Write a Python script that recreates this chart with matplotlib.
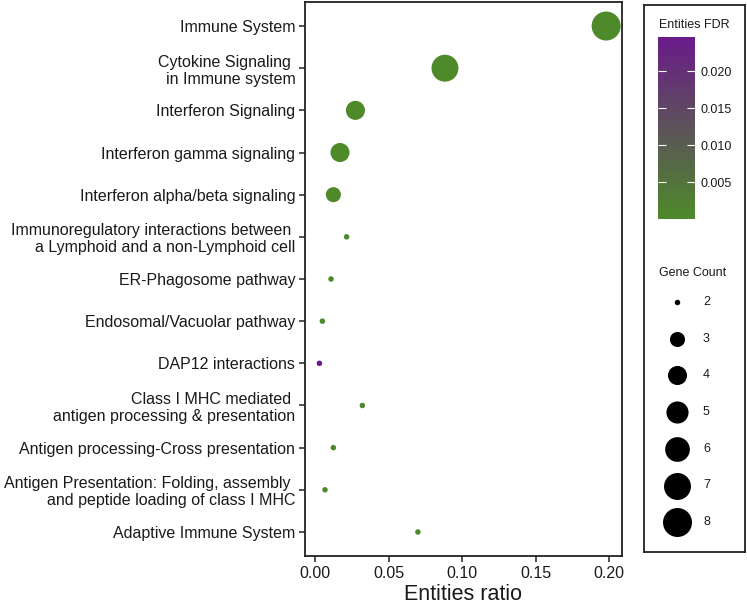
import numpy as np
import matplotlib
matplotlib.use("Agg")
import matplotlib.pyplot as plt
from matplotlib.colors import LinearSegmentedColormap, Normalize

plt.rcParams['font.family'] = ['Liberation Sans', 'DejaVu Sans']

# pathways, top to bottom
pathways = [
    "Immune System",
    "Cytokine Signaling \nin Immune system",
    "Interferon Signaling",
    "Interferon gamma signaling",
    "Interferon alpha/beta signaling",
    "Immunoregulatory interactions between \na Lymphoid and a non-Lymphoid cell",
    "ER-Phagosome pathway",
    "Endosomal/Vacuolar pathway",
    "DAP12 interactions",
    "Class I MHC mediated \nantigen processing & presentation",
    "Antigen processing-Cross presentation",
    "Antigen Presentation: Folding, assembly \nand peptide loading of class I MHC",
    "Adaptive Immune System",
]
ratio = [0.198, 0.0884, 0.0275, 0.017, 0.0125, 0.0215, 0.0109,
         0.005, 0.003, 0.0322, 0.0125, 0.0068, 0.070]
gene_count = [8, 7, 4, 4, 3, 2, 2, 2, 2, 2, 2, 2, 2]
fdr = [1.2e-9, 3.4e-8, 2.1e-6, 4.5e-6, 1.8e-4, 2.6e-4, 3.1e-4,
       3.1e-4, 0.0246, 4.2e-4, 3.5e-4, 3.1e-4, 4.6e-4]

legend_counts = [2, 3, 4, 5, 6, 7, 8]
fdr_ticks = [0.005, 0.010, 0.015, 0.020]

cmap = LinearSegmentedColormap.from_list("fdr", ["#4E8A2A", "#6A1B8A"])
norm = Normalize(vmin=min(fdr), vmax=max(fdr))

dpi = 100
W, H = 747, 606


def size_of(c):
    # ggplot-like area scale: diameter in px -> marker area in pt^2
    lo, hi = min(legend_counts), max(legend_counts)
    d = 5.5 + (29 - 5.5) * np.sqrt((np.asarray(c) - lo) / (hi - lo))
    return (d * 72 / dpi) ** 2


fig = plt.figure(figsize=(W / dpi, H / dpi), dpi=dpi)


def px_axes(x0, y0, x1, y1):
    return fig.add_axes([x0 / W, 1 - y1 / H, (x1 - x0) / W, (y1 - y0) / H])


ax = px_axes(305, 2, 622, 556)
ypos = np.arange(len(pathways))
ax.scatter(ratio, ypos, s=size_of(gene_count), c=fdr, cmap=cmap, norm=norm,
           linewidths=0, zorder=3)
ax.set_xlim(-0.0068, 0.2088)
ax.set_ylim(len(pathways) - 0.43, -0.57)
ax.set_yticks(ypos)
ax.set_yticklabels(pathways, fontsize=11.5, color="#1a1a1a",
                   multialignment="right", linespacing=1.17)
ax.set_xticks([0, 0.05, 0.10, 0.15, 0.20])
ax.set_xticklabels(["0.00", "0.05", "0.10", "0.15", "0.20"], fontsize=11.5,
                   color="#1a1a1a")
ax.set_xlabel("Entities ratio", fontsize=15.5, color="#1a1a1a", labelpad=2)
ax.tick_params(length=4, width=1.1, color="#222222", pad=3)
for sp in ax.spines.values():
    sp.set_linewidth(1.3)
    sp.set_color("#222222")

# legend box
box = px_axes(644, 5, 745, 552)
box.set_xlim(644, 745)
box.set_ylim(552, 5)
box.set_xticks([])
box.set_yticks([])
for sp in box.spines.values():
    sp.set_linewidth(1.3)
    sp.set_color("#222222")

box.text(659, 25, "Entities FDR", fontsize=9, va="center", ha="left",
         color="#1a1a1a")
cax = px_axes(658, 37, 695, 219)
sm = plt.cm.ScalarMappable(norm=norm, cmap=cmap)
cb = fig.colorbar(sm, cax=cax, ticks=fdr_ticks)
cb.outline.set_visible(False)
cb.ax.set_yticklabels(["%.3f" % t for t in fdr_ticks], fontsize=9,
                      color="#1a1a1a")
cb.ax.tick_params(direction="in", color="white", length=6, width=0.8,
                  left=True, right=True, pad=4)

box.text(659, 273, "Gene Count", fontsize=9, va="center", ha="left",
         color="#1a1a1a")
for i, c in enumerate(legend_counts):
    yy = 302 + 36.7 * i
    box.scatter([677], [yy], s=size_of(c), color="black", linewidths=0)
    box.text(703, yy, str(c), fontsize=9, va="center", ha="left",
             color="#1a1a1a")

fig.savefig("out.png", dpi=dpi)
